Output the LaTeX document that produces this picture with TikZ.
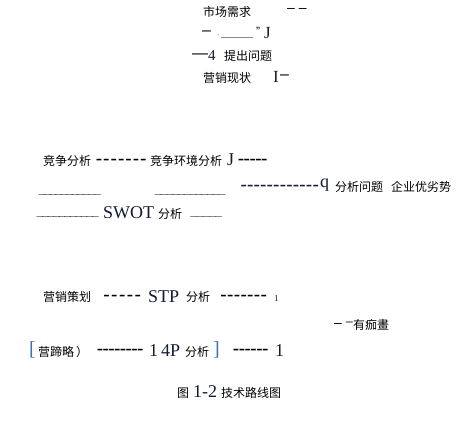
\documentclass[tikz,border=0pt]{standalone}
\usepackage{fontspec}
\usepackage{graphicx}
\setmainfont{Liberation Sans}
\newfontfamily\cjk{Noto Sans CJK SC}
\newfontfamily\rmlat{Liberation Serif}
\definecolor{navy}{HTML}{141A33}
\definecolor{brk}{HTML}{3F6FB5}
\definecolor{grayln}{HTML}{8A8A8A}
% a run of hyphens: [pitch]{width}
\newcommand\dashrun[2][6bp]{\hbox to #2{\xleaders\hbox to #1{\hss\scalebox{1.6}[1.1]{-}\hss}\hfil}}
\newcommand\underrun[1]{\hbox to #1{\bfseries\xleaders\hbox{\kern-0.6bp\_\kern-0.6bp}\hfil}}
\tikzset{
  cn/.style={anchor=west,inner sep=0pt,font=\cjk\fontsize{12bp}{14bp}\selectfont},
  lat/.style={anchor=west,inner sep=0pt,font=\rmlat\fontsize{18bp}{20bp}\selectfont,text=navy},
  dsh/.style={anchor=west,inner sep=0pt,font=\fontsize{12bp}{14bp}\selectfont},
  bdsh/.style={anchor=west,inner sep=0pt,font=\bfseries\fontsize{12bp}{14bp}\selectfont},
}
\begin{document}
\begin{tikzpicture}[x=1bp,y=-1bp]
\useasboundingbox (0,0) rectangle (469,426);
% top block
\node[cn] (sc) at (203,12) {市场需求};
\node[dsh,font=\fontsize{14bp}{16bp}\selectfont] (d1) at (287,10) {\textendash\ \textendash};
\node[dsh,font=\fontsize{16bp}{18bp}\selectfont] (d2) at (202,33) {\textendash};
\node[dsh,text=grayln,font=\fontsize{8bp}{9bp}\selectfont] (cm) at (217,36) {,};
\coordinate (u1) at (221,37);
\coordinate (u2) at (253,37);
\draw[grayln,line width=0.8bp] (u1) -- (u2);
\node[dsh] (q1) at (256,31) {"};
\node[lat,font=\rmlat\fontsize{17bp}{19bp}\selectfont] (j1) at (264,33) {J};
\node[dsh,font=\fontsize{16bp}{18bp}\selectfont] (d3) at (192,56) {\textemdash};
\node[lat,font=\rmlat\fontsize{15bp}{17bp}\selectfont] (n4) at (208,56) {4};
\node[cn] (tc) at (224,56) {提出问题};
\node[cn] (yx) at (203,78) {营销现状};
\node[lat,font=\rmlat\fontsize{17bp}{19bp}\selectfont] (i1) at (273,77) {I};
\node[dsh,font=\fontsize{16bp}{18bp}\selectfont] (d4) at (280,77) {\textendash};
% competition block
\node[cn] (jz) at (43,161) {竞争分析};
\node[bdsh] (r1) at (95,161) {\dashrun[7.3bp]{52bp}};
\node[cn] (jh) at (150,161) {竞争环境分析};
\node[lat] (j2) at (227,160) {J};
\node[bdsh] (r2) at (238,161) {\dashrun[5.8bp]{29bp}};
\node[dsh] (u3) at (39,194) {\underrun{61bp}};
\node[dsh] (u4) at (155,194) {\underrun{70bp}};
\node[bdsh,text=navy] (r3) at (240,187) {\dashrun[6.1bp]{79bp}};
\node[lat] (q2) at (320,185) {q};
\node[cn] (fx) at (335,187) {分析问题};
\node[cn] (qy) at (391,187) {企业优劣势};
\node[dsh] (u5) at (37,216) {\underrun{61bp}};
\node[lat] (sw) at (103,213) {SWOT};
\node[cn] (f1) at (158,214) {分析};
\node[dsh] (u6) at (190,216) {\underrun{32bp}};
% planning block
\node[cn] (ch) at (43,297) {营销策划};
\node[bdsh] (r4) at (102,297) {\dashrun[6.7bp]{40bp}};
\node[lat] (stp) at (148,297) {STP};
\node[cn] (f2) at (186,297) {分析};
\node[bdsh] (r5) at (220,297) {\dashrun[6.7bp]{47bp}};
\node[lat,font=\rmlat\fontsize{9bp}{10bp}\selectfont] (o1) at (274,299) {1};
\node[dsh,font=\fontsize{14bp}{16bp}\selectfont] (d5) at (334,325) {\textendash};
\node[dsh] (u7) at (346,322) {\_};
\node[cn] (yc) at (353,325) {有痂畫};
\node[lat,text=brk,font=\rmlat\fontsize{20bp}{22bp}\selectfont] (lb) at (29,350) {[};
\node[cn] (yd) at (38,352) {营蹄略};
\node[cn] (rp) at (76,352) {）};
\node[bdsh] (r6) at (97,351) {\dashrun[5.75bp]{46bp}};
\node[lat] (o2) at (149,351) {1};
\node[lat] (fp) at (161,351) {4P};
\node[cn] (f3) at (185,352) {分析};
\node[lat,text=brk,font=\rmlat\fontsize{20bp}{22bp}\selectfont] (rb) at (213,350) {]};
\node[bdsh] (r7) at (233,351) {\dashrun[5.8bp]{35bp}};
\node[lat] (o3) at (275,351) {1};
% caption
\node[cn] (tu) at (177,393) {图};
\node[lat] (nm) at (193,392) {1-2};
\node[cn] (js) at (221,393) {技术路线图};
\end{tikzpicture}
\end{document}
